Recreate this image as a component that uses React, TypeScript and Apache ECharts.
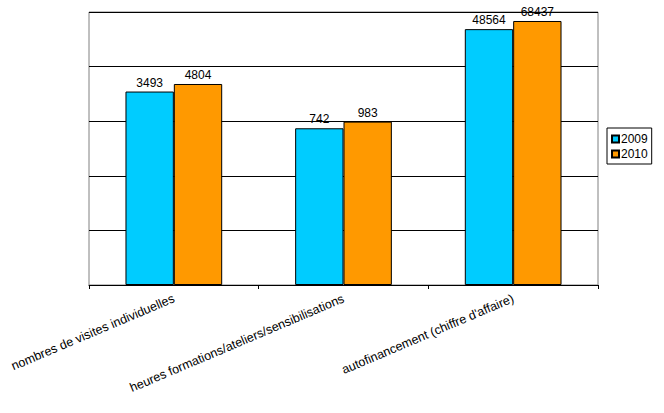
import React, { useEffect, useRef } from "react";
import * as echarts from "echarts";

const categories = [
  "nombres de visites individuelles",
  "heures formations/ateliers/sensibilisations",
  "autofinancement (chiffre d'affaire)",
];
const values2009 = [3493, 742, 48564];
const values2010 = [4804, 983, 68437];
const seriesNames = ["2009", "2010"];

export default function App() {
  const ref = useRef<HTMLDivElement>(null);
  useEffect(() => {
    if (!ref.current) return;
    const chart = echarts.init(ref.current, undefined, { renderer: "svg" });
    const font = "'Liberation Sans', Arial, sans-serif";
    chart.setOption({
      animation: false,
      backgroundColor: "#ffffff",
      textStyle: { fontFamily: font },
      grid: {
        left: 89,
        right: 66,
        top: 12,
        bottom: 128,
        show: true,
        borderColor: "#808080",
        borderWidth: 1,
        containLabel: false,
      },
      legend: {
        orient: "vertical",
        left: 607,
        top: 128,
        padding: [5, 4, 4, 4],
        itemGap: 3,
        itemWidth: 7,
        itemHeight: 7,
        icon: "rect",
        borderColor: "#000",
        borderWidth: 1,
        textStyle: { fontSize: 12, color: "#000", fontFamily: font, padding: [0, 0, 0, -3] },
        data: seriesNames,
      },
      xAxis: {
        type: "category",
        data: categories,
        axisLine: { lineStyle: { color: "#000", width: 1 } },
        axisTick: { show: true, length: 4, lineStyle: { color: "#000" }, alignWithLabel: false },
        axisLabel: {
          interval: 0,
          rotate: 23,
          margin: 13,
          fontSize: 12.5,
          color: "#000",
          fontFamily: font,
        },
      },
      yAxis: {
        type: "log",
        logBase: 10,
        min: 1,
        max: 100000,
        axisLine: { show: false },
        axisTick: { show: false },
        axisLabel: { show: false },
        splitLine: { show: true, lineStyle: { color: "#000", width: 1 } },
      },
      series: [
        {
          name: seriesNames[0],
          type: "bar",
          data: values2009,
          barGap: "0%",
          barCategoryGap: "43%",
          itemStyle: { color: "#00CCFF", borderColor: "#000", borderWidth: 1 },
          label: { show: true, position: "top", color: "#000", fontSize: 12, distance: 3, fontFamily: font },
        },
        {
          name: seriesNames[1],
          type: "bar",
          data: values2010,
          barGap: "0%",
          barCategoryGap: "43%",
          itemStyle: { color: "#FF9900", borderColor: "#000", borderWidth: 1 },
          label: { show: true, position: "top", color: "#000", fontSize: 12, distance: 3, fontFamily: font },
        },
      ],
    });
    return () => chart.dispose();
  }, []);
  return (
    <div
      ref={ref}
      style={{ position: "fixed", left: 0, top: 0, width: 664, height: 413, background: "#fff" }}
    />
  );
}
